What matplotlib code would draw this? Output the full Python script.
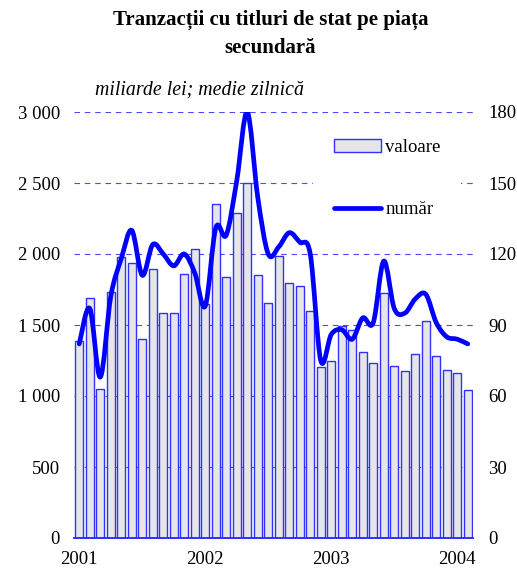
import matplotlib
matplotlib.use('Agg')
import matplotlib.pyplot as plt
from matplotlib.path import Path
from matplotlib.patches import PathPatch
from matplotlib.lines import Line2D
from matplotlib.patches import Patch
import numpy as np
import pandas as pd

# ---- data ----
months = pd.date_range('2001-01-01', periods=38, freq='MS')
valoare = [1390, 1690, 1050, 1730, 1980, 1935, 1400, 1895, 1585, 1585, 1860, 2035,
           1650, 2350, 1840, 2290, 2500, 1850, 1655, 1985, 1795, 1775, 1600, 1205,
           1250, 1490, 1465, 1310, 1230, 1725, 1210, 1175, 1295, 1530, 1280, 1185,
           1160, 1040]
numar = [82, 97, 68, 102, 118, 130, 111, 124, 120, 115, 120, 112,
         98, 131, 128, 151, 180, 144, 120, 123, 129, 125, 120, 75,
         86, 88, 84, 93, 91, 117, 97, 95, 101, 103, 91, 85,
         84, 82]
left_ticks = [0, 500, 1000, 1500, 2000, 2500, 3000]
left_ticklabels = ['0', '500', '1 000', '1 500', '2 000', '2 500', '3 000']
right_ticks = [0, 30, 60, 90, 120, 150, 180]
title = 'Tranzacții cu titluri de stat pe piața\nsecundară'
subtitle = 'miliarde lei; medie zilnică'

plt.rcParams['font.family'] = ['Liberation Serif', 'DejaVu Serif']
FS = 13.5

W, H = 517, 570
fig = plt.figure(figsize=(W / 100, H / 100), dpi=100)
ax = fig.add_axes([74 / W, 1 - 538 / H, (473 - 74) / W, (538 - 112) / H])
ax2 = ax.twinx()

x = np.arange(len(valoare))
blue = '#0000ff'
edge = '#3030ff'

ax.bar(x, valoare, width=0.8, color='#e6e6e6', edgecolor=edge, linewidth=1.0, zorder=2)
ax.set_xlim(-0.5, len(valoare) - 0.5)
ax.set_ylim(0, 3000)
ax.set_yticks(left_ticks)
ax.set_yticklabels(left_ticklabels)
ax.yaxis.grid(True, color='#4a4aff', linestyle=(0, (5, 4.3)), linewidth=0.8, zorder=0)
ax.set_axisbelow(True)

jan_idx = [i for i, m in enumerate(months) if m.month == 1]
ax.set_xticks(jan_idx)
ax.set_xticklabels([str(months[i].year) for i in jan_idx])

for a in (ax, ax2):
    for s in ('left', 'right', 'top'):
        a.spines[s].set_visible(False)
    a.spines['bottom'].set_color(edge)
    a.spines['bottom'].set_linewidth(1.2)
    a.tick_params(length=0, labelsize=FS)
ax.tick_params(axis='y', pad=10)
ax.tick_params(axis='x', pad=9)
ax2.tick_params(axis='y', pad=11)

ax2.set_ylim(0, 180)
ax2.set_yticks(right_ticks)
ax2.set_yticklabels([str(v) for v in right_ticks])

# smoothed line (Bezier through data points, like a spreadsheet "smoothed line")
pts = np.column_stack([x, np.asarray(numar, float)])
verts = [tuple(pts[0])]
codes = [Path.MOVETO]
n = len(pts)
for i in range(n - 1):
    p0 = pts[i - 1] if i > 0 else pts[i]
    p1 = pts[i]
    p2 = pts[i + 1]
    p3 = pts[i + 2] if i + 2 < n else pts[i + 1]
    c1 = p1 + (p2 - p0) / 6.0
    c2 = p2 - (p3 - p1) / 6.0
    verts += [tuple(c1), tuple(c2), tuple(p2)]
    codes += [Path.CURVE4] * 3
ax2.add_patch(PathPatch(Path(verts, codes), facecolor='none', edgecolor=blue,
                        linewidth=3.4, capstyle='round', joinstyle='round', zorder=3))

handles = [Patch(facecolor='#e6e6e6', edgecolor=edge, linewidth=1.0),
           Line2D([], [], color=blue, linewidth=3.4, solid_capstyle='round')]
leg = ax2.legend(handles, ['valoare', 'număr'], loc='upper left',
                 bbox_to_anchor=((313 - 74) / (473 - 74), 1 - (118 - 112) / (538 - 112)),
                 frameon=True, fontsize=FS, handlelength=2.5, handleheight=0.75,
                 handletextpad=0.25, labelspacing=2.4, borderpad=1.1,
                 borderaxespad=0, fancybox=False)
leg.get_frame().set_facecolor('white')
leg.get_frame().set_edgecolor('none')
leg.get_frame().set_alpha(1.0)
leg.set_zorder(10)

fig.text(0.5 * (113 + 428) / W, 1 - 34 / H, title, ha='center', va='center',
         fontsize=15, fontweight='bold', linespacing=1.55)
fig.text(95 / W, 1 - 90 / H, subtitle, ha='left', va='center', fontsize=14.3,
         style='italic')

fig.savefig('out.png', dpi=100)
